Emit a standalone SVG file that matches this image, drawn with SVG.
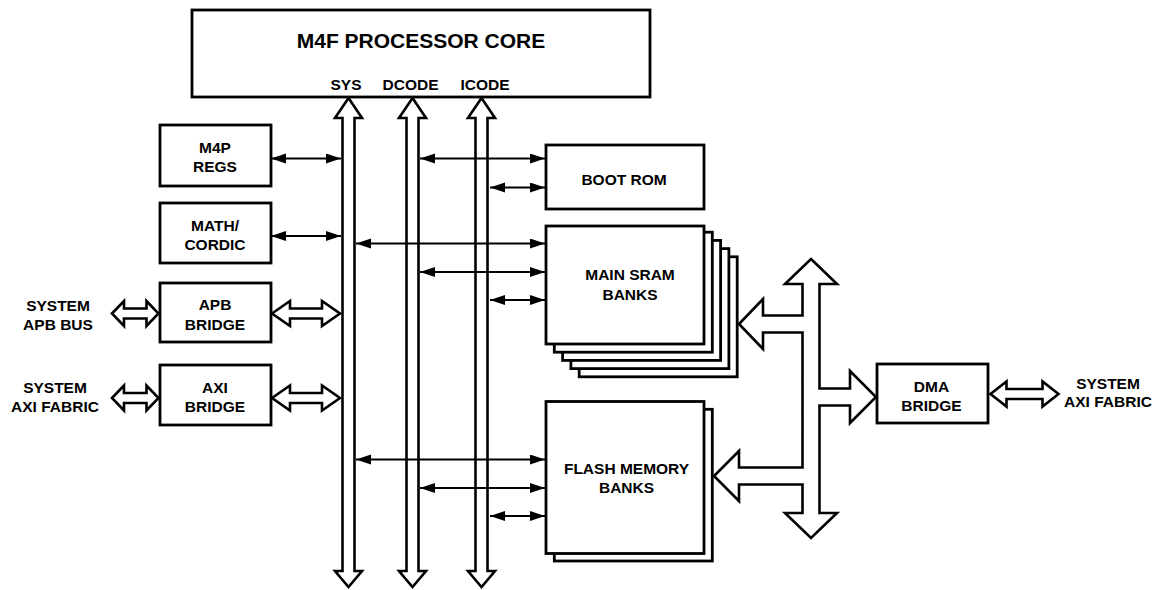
<svg xmlns="http://www.w3.org/2000/svg" width="1165" height="590" viewBox="0 0 1165 590">
<style>
.box{fill:#fff;stroke:#000;stroke-width:2.8}
.t{font-family:"Liberation Sans",Arial,sans-serif;font-weight:bold;font-size:15.5px;text-anchor:middle;fill:#000}
.title{font-size:21px}
.bus{fill:#fff;stroke:#000;stroke-width:2.6;stroke-linejoin:miter}
.ln{stroke:#000;stroke-width:2;fill:none;marker-start:url(#ah);marker-end:url(#ah)}
</style>
<defs>
<marker id="ah" markerUnits="userSpaceOnUse" markerWidth="16" markerHeight="11" refX="15" refY="5" orient="auto-start-reverse">
<path d="M0,0 L15,5 L0,10 z" fill="#000"/>
</marker>
</defs>
<rect width="1165" height="590" fill="#fff"/>

<g id="core">
<rect class="box" x="192" y="10" width="458" height="87"/>
<text class="t title" x="421" y="48">M4F PROCESSOR CORE</text>
<text class="t" x="346" y="90">SYS</text>
<text class="t" x="410.5" y="90">DCODE</text>
<text class="t" x="485" y="90">ICODE</text>
</g>

<g id="buses">
<path class="bus" d="M348.5,98 L362,118 L354.5,118 L354.5,571 L362,571 L348.5,587 L335,571 L342.5,571 L342.5,118 L335,118 Z"/>
<path class="bus" d="M412.5,98 L426,118 L418.5,118 L418.5,571 L426,571 L412.5,587 L399,571 L406.5,571 L406.5,118 L399,118 Z"/>
<path class="bus" d="M481.5,98 L495,118 L487.5,118 L487.5,571 L495,571 L481.5,587 L468,571 L475.5,571 L475.5,118 L468,118 Z"/>
</g>

<g id="m4p-regs">
<rect class="box" x="160" y="125" width="111" height="61"/>
<text class="t" x="215" y="153">M4P</text>
<text class="t" x="215" y="172">REGS</text>
</g>
<g id="math-cordic">
<rect class="box" x="160" y="203" width="111" height="60"/>
<text class="t" x="215" y="231">MATH/</text>
<text class="t" x="215" y="249.5">CORDIC</text>
</g>
<g id="apb-bridge">
<rect class="box" x="160" y="283" width="111" height="59"/>
<text class="t" x="215" y="310">APB</text>
<text class="t" x="215" y="329.5">BRIDGE</text>
</g>
<g id="axi-bridge">
<rect class="box" x="160" y="365" width="111" height="60"/>
<text class="t" x="215" y="393">AXI</text>
<text class="t" x="215" y="412">BRIDGE</text>
</g>
<g id="sys-apb-bus">
<text class="t" x="58" y="311">SYSTEM</text>
<text class="t" x="58" y="330">APB BUS</text>
</g>
<g id="sys-axi-left">
<text class="t" x="55" y="393">SYSTEM</text>
<text class="t" x="55" y="412">AXI FABRIC</text>
</g>

<g id="boot-rom">
<rect class="box" x="546" y="145" width="158" height="64"/>
<text class="t" x="624" y="185">BOOT ROM</text>
</g>
<g id="main-sram">
<rect class="box" x="579.2" y="256.8" width="158" height="120"/>
<rect class="box" x="570.9" y="248.6" width="158" height="120"/>
<rect class="box" x="562.6" y="240.4" width="158" height="120"/>
<rect class="box" x="554.3" y="232.2" width="158" height="120"/>
<rect class="box" x="546" y="226" width="158" height="118"/>
<text class="t" x="630" y="280">MAIN SRAM</text>
<text class="t" x="630" y="300">BANKS</text>
</g>
<g id="flash">
<rect class="box" x="554.3" y="409.3" width="158" height="151.7"/>
<rect class="box" x="546" y="401.5" width="158" height="152"/>
<text class="t" x="626.5" y="473.5">FLASH MEMORY</text>
<text class="t" x="626.5" y="493">BANKS</text>
</g>
<g id="dma-bridge">
<rect class="box" x="877" y="364" width="111" height="59"/>
<text class="t" x="931.5" y="392">DMA</text>
<text class="t" x="931.5" y="411">BRIDGE</text>
</g>
<g id="sys-axi-right">
<text class="t" x="1108" y="388.5">SYSTEM</text>
<text class="t" x="1108" y="407">AXI FABRIC</text>
</g>

<g id="connectors">
<line class="ln" x1="271" y1="158.5" x2="341" y2="158.5"/>
<line class="ln" x1="271" y1="236" x2="341" y2="236"/>
<line class="ln" x1="420" y1="158.5" x2="545" y2="158.5"/>
<line class="ln" x1="490" y1="187.5" x2="545" y2="187.5"/>
<line class="ln" x1="356" y1="243.5" x2="545" y2="243.5"/>
<line class="ln" x1="420" y1="272" x2="545" y2="272"/>
<line class="ln" x1="490" y1="300" x2="545" y2="300"/>
<line class="ln" x1="356" y1="459.5" x2="545" y2="459.5"/>
<line class="ln" x1="420" y1="488" x2="545" y2="488"/>
<line class="ln" x1="490" y1="516" x2="545" y2="516"/>
<path class="bus" d="M272,313.5 L290,301 L290,308.5 L322,308.5 L322,301 L340,313.5 L322,326 L322,318.5 L290,318.5 L290,326 Z"/>
<path class="bus" d="M272,398 L290,385.5 L290,393 L322,393 L322,385.5 L340,398 L322,410.5 L322,403 L290,403 L290,410.5 Z"/>
<path class="bus" d="M112,313.5 L124,301 L124,308.5 L146.5,308.5 L146.5,301 L158.5,313.5 L146.5,326 L146.5,318.5 L124,318.5 L124,326 Z"/>
<path class="bus" d="M112,398 L124,385.5 L124,393 L146.5,393 L146.5,385.5 L158.5,398 L146.5,410.5 L146.5,403 L124,403 L124,410.5 Z"/>
<path class="bus" d="M990.5,394 L1006.5,381.5 L1006.5,389 L1042.5,389 L1042.5,381.5 L1058.5,394 L1042.5,406.5 L1042.5,399 L1006.5,399 L1006.5,406.5 Z"/>
<path class="bus" d="M811,259 L837,284 L819.5,284 L819.5,388.5 L850,388.5 L850,371 L876,397 L850,423 L850,405.5 L819.5,405.5 L819.5,513 L837,513 L811,538 L785,513 L802.5,513 L802.5,484.5 L739,484.5 L739,501 L714,476 L739,451 L739,467.5 L802.5,467.5 L802.5,332.5 L763,332.5 L763,349 L739,324 L763,299 L763,315.5 L802.5,315.5 L802.5,284 L785,284 Z"/>
</g>
</svg>
